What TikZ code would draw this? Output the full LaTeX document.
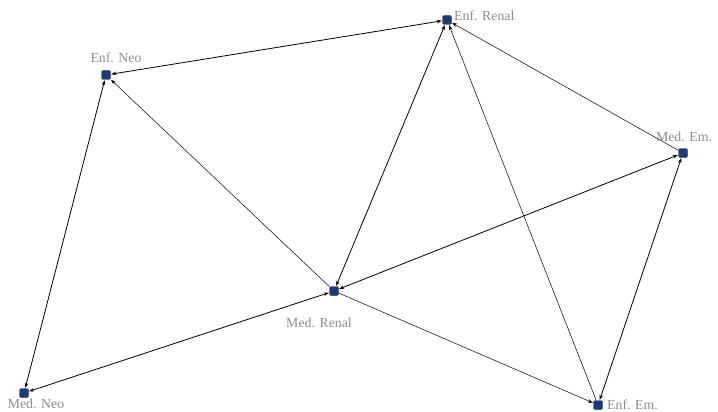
\documentclass[tikz,border=0pt]{standalone}
\usepackage{fontspec}
\setmainfont{Liberation Serif}
\usetikzlibrary{arrows.meta}
\definecolor{nodeblue}{HTML}{1B3A78}
\definecolor{labgray}{HTML}{8C8C8C}
\begin{document}
\begin{tikzpicture}[x=1pt,y=-1pt,
  vert/.style={draw=black!80,fill=nodeblue,rounded corners=1.5pt,minimum size=9pt,inner sep=0pt,line width=0.4pt},
  lab/.style={text=labgray,font=\fontsize{13.8}{15}\selectfont,inner sep=0pt},
  one/.style={-{Stealth[length=5pt,width=3.6pt]},line width=0.5pt,shorten >=0.5pt},
  two/.style={{Stealth[length=5pt,width=3.6pt]}-{Stealth[length=5pt,width=3.6pt]},line width=0.8pt,shorten >=0.5pt,shorten <=0.5pt}]
\useasboundingbox (0,0) rectangle (718,412);
\node[vert] (er) at (447,20) {};
\node[vert] (en) at (106,75) {};
\node[vert] (me) at (683,153) {};
\node[vert] (mr) at (334,291) {};
\node[vert] (mn) at (24,393) {};
\node[vert] (ee) at (598,405) {};
\node[lab,anchor=west] (erl) at (454,16) {Enf. Renal};
\node[lab] (enl) at (116,58) {Enf. Neo};
\node[lab] (mel) at (684,137) {Med. Em.};
\node[lab] (mrl) at (319,323) {Med. Renal};
\node[lab] (mnl) at (36,404) {Med. Neo};
\node[lab,anchor=west] (eel) at (607,405) {Enf. Em.};
\draw[two] (en) -- (er);
\draw[two] (en) -- (mn);
\draw[one] (mr) -- (en);
\draw[two] (mr) -- (er);
\draw[one] (me) -- (er);
\draw[one] (ee) -- (er);
\draw[two] (mr) -- (me);
\draw[two] (mr) -- (mn);
\draw[one] (mr) -- (ee);
\draw[two] (ee) -- (me);
\end{tikzpicture}
\end{document}
